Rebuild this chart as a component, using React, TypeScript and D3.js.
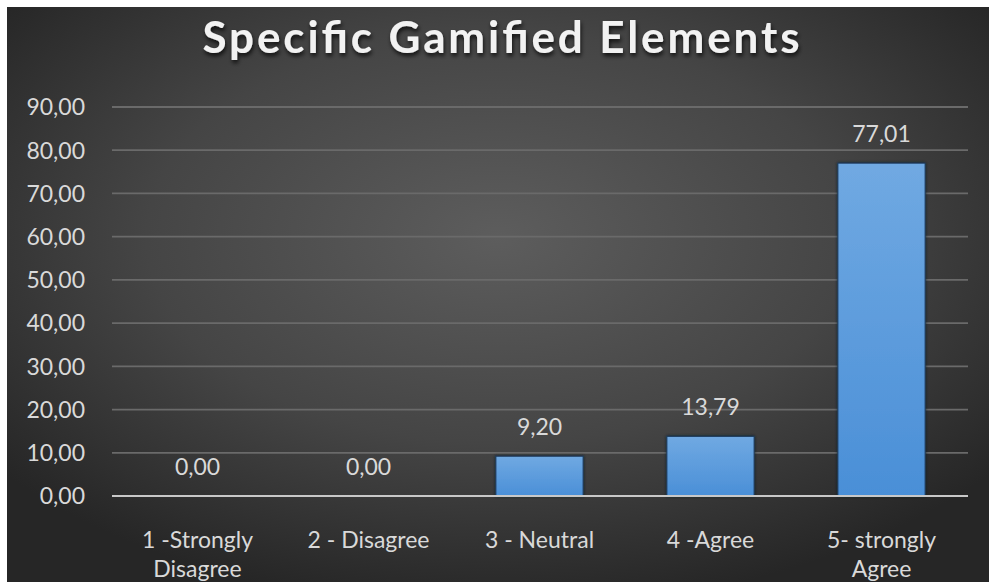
import React from "react";
import * as d3 from "d3";

// Survey responses (percent) for the "Specific Gamified Elements" item
const categories: string[][] = [
  ["1 -Strongly", "Disagree"],
  ["2 - Disagree"],
  ["3 - Neutral"],
  ["4 -Agree"],
  ["5- strongly", "Agree"],
];
const values: number[] = [0.0, 0.0, 9.2, 13.79, 77.01];
const yTicks: number[] = [0, 10, 20, 30, 40, 50, 60, 70, 80, 90];

const W = 989;
const H = 582;
const FONT = "Lato, 'Open Sans', sans-serif";

const fmt = (v: number) => v.toFixed(2).replace(".", ",");

export default function App() {
  const x = d3
    .scaleBand<number>()
    .domain(values.map((_, i) => i))
    .range([112, 967])
    .paddingInner(0.49)
    .paddingOuter(0.245);
  const y = d3.scaleLinear().domain([0, 90]).range([496, 107]);

  return (
    <svg
      width={W}
      height={H}
      style={{ position: "fixed", left: 0, top: 0, display: "block" }}
    >
      <defs>
        <radialGradient id="bg" cx="50%" cy="40%" r="65%">
          <stop offset="0%" stopColor="#5d5d5d" />
          <stop offset="55%" stopColor="#454545" />
          <stop offset="100%" stopColor="#262626" />
        </radialGradient>
        <linearGradient id="bar" x1="0" y1="0" x2="0" y2="1">
          <stop offset="0%" stopColor="#70a9e2" />
          <stop offset="100%" stopColor="#4a8fd7" />
        </linearGradient>
        <filter id="titleShadow" x="-10%" y="-30%" width="120%" height="170%">
          <feDropShadow dx="1" dy="3" stdDeviation="2" floodColor="#000" floodOpacity="0.75" />
        </filter>
        <filter id="barShadow" x="-10%" y="-10%" width="120%" height="120%">
          <feDropShadow dx="0" dy="0" stdDeviation="1.5" floodColor="#0b1a2c" floodOpacity="0.9" />
        </filter>
      </defs>

      <rect x={0} y={0} width={W} height={H} fill="#ffffff" />
      <rect x={7} y={7} width={W - 7} height={H - 7} fill="url(#bg)" />

      {/* title */}
      <text
        x={501}
        y={53}
        textAnchor="middle"
        fill="#f2f2f2"
        fontFamily={FONT}
        fontWeight={700}
        fontSize={44}
        textLength={597}
        lengthAdjust="spacing"
        filter="url(#titleShadow)"
      >
        Specific Gamified Elements
      </text>

      {/* gridlines and y tick labels */}
      {yTicks.map((t) => (
        <g key={t}>
          {t > 0 && (
            <line
              x1={112}
              x2={968}
              y1={y(t)}
              y2={y(t)}
              stroke="#6a6a6a"
              strokeWidth={1.8}
            />
          )}
          <text
            x={85}
            y={y(t)}
            dy="0.36em"
            textAnchor="end"
            fill="#d9d9d9"
            fontFamily={FONT}
            fontSize={23}
          >
            {fmt(t)}
          </text>
        </g>
      ))}

      {/* bars */}
      {values.map((v, i) =>
        v > 0 ? (
          <rect
            key={i}
            x={x(i)}
            y={y(v)}
            width={x.bandwidth()}
            height={y(0) - y(v)}
            fill="url(#bar)"
            stroke="#1d3a5c"
            strokeWidth={1}
            filter="url(#barShadow)"
          />
        ) : null
      )}

      {/* category axis */}
      <line x1={112} x2={968} y1={y(0)} y2={y(0)} stroke="#c8c8c8" strokeWidth={2.2} />

      {/* value labels */}
      {values.map((v, i) => (
        <text
          key={i}
          x={(x(i) as number) + x.bandwidth() / 2}
          y={y(v) - 21}
          textAnchor="middle"
          fill="#d9d9d9"
          fontFamily={FONT}
          fontSize={23}
        >
          {fmt(v)}
        </text>
      ))}

      {/* category labels */}
      {categories.map((lines, i) => (
        <text
          key={i}
          x={(x(i) as number) + x.bandwidth() / 2}
          y={548}
          textAnchor="middle"
          fill="#d9d9d9"
          fontFamily={FONT}
          fontSize={23}
        >
          {lines.map((l, j) => (
            <tspan key={j} x={(x(i) as number) + x.bandwidth() / 2} dy={j === 0 ? 0 : 29}>
              {l}
            </tspan>
          ))}
        </text>
      ))}
    </svg>
  );
}
